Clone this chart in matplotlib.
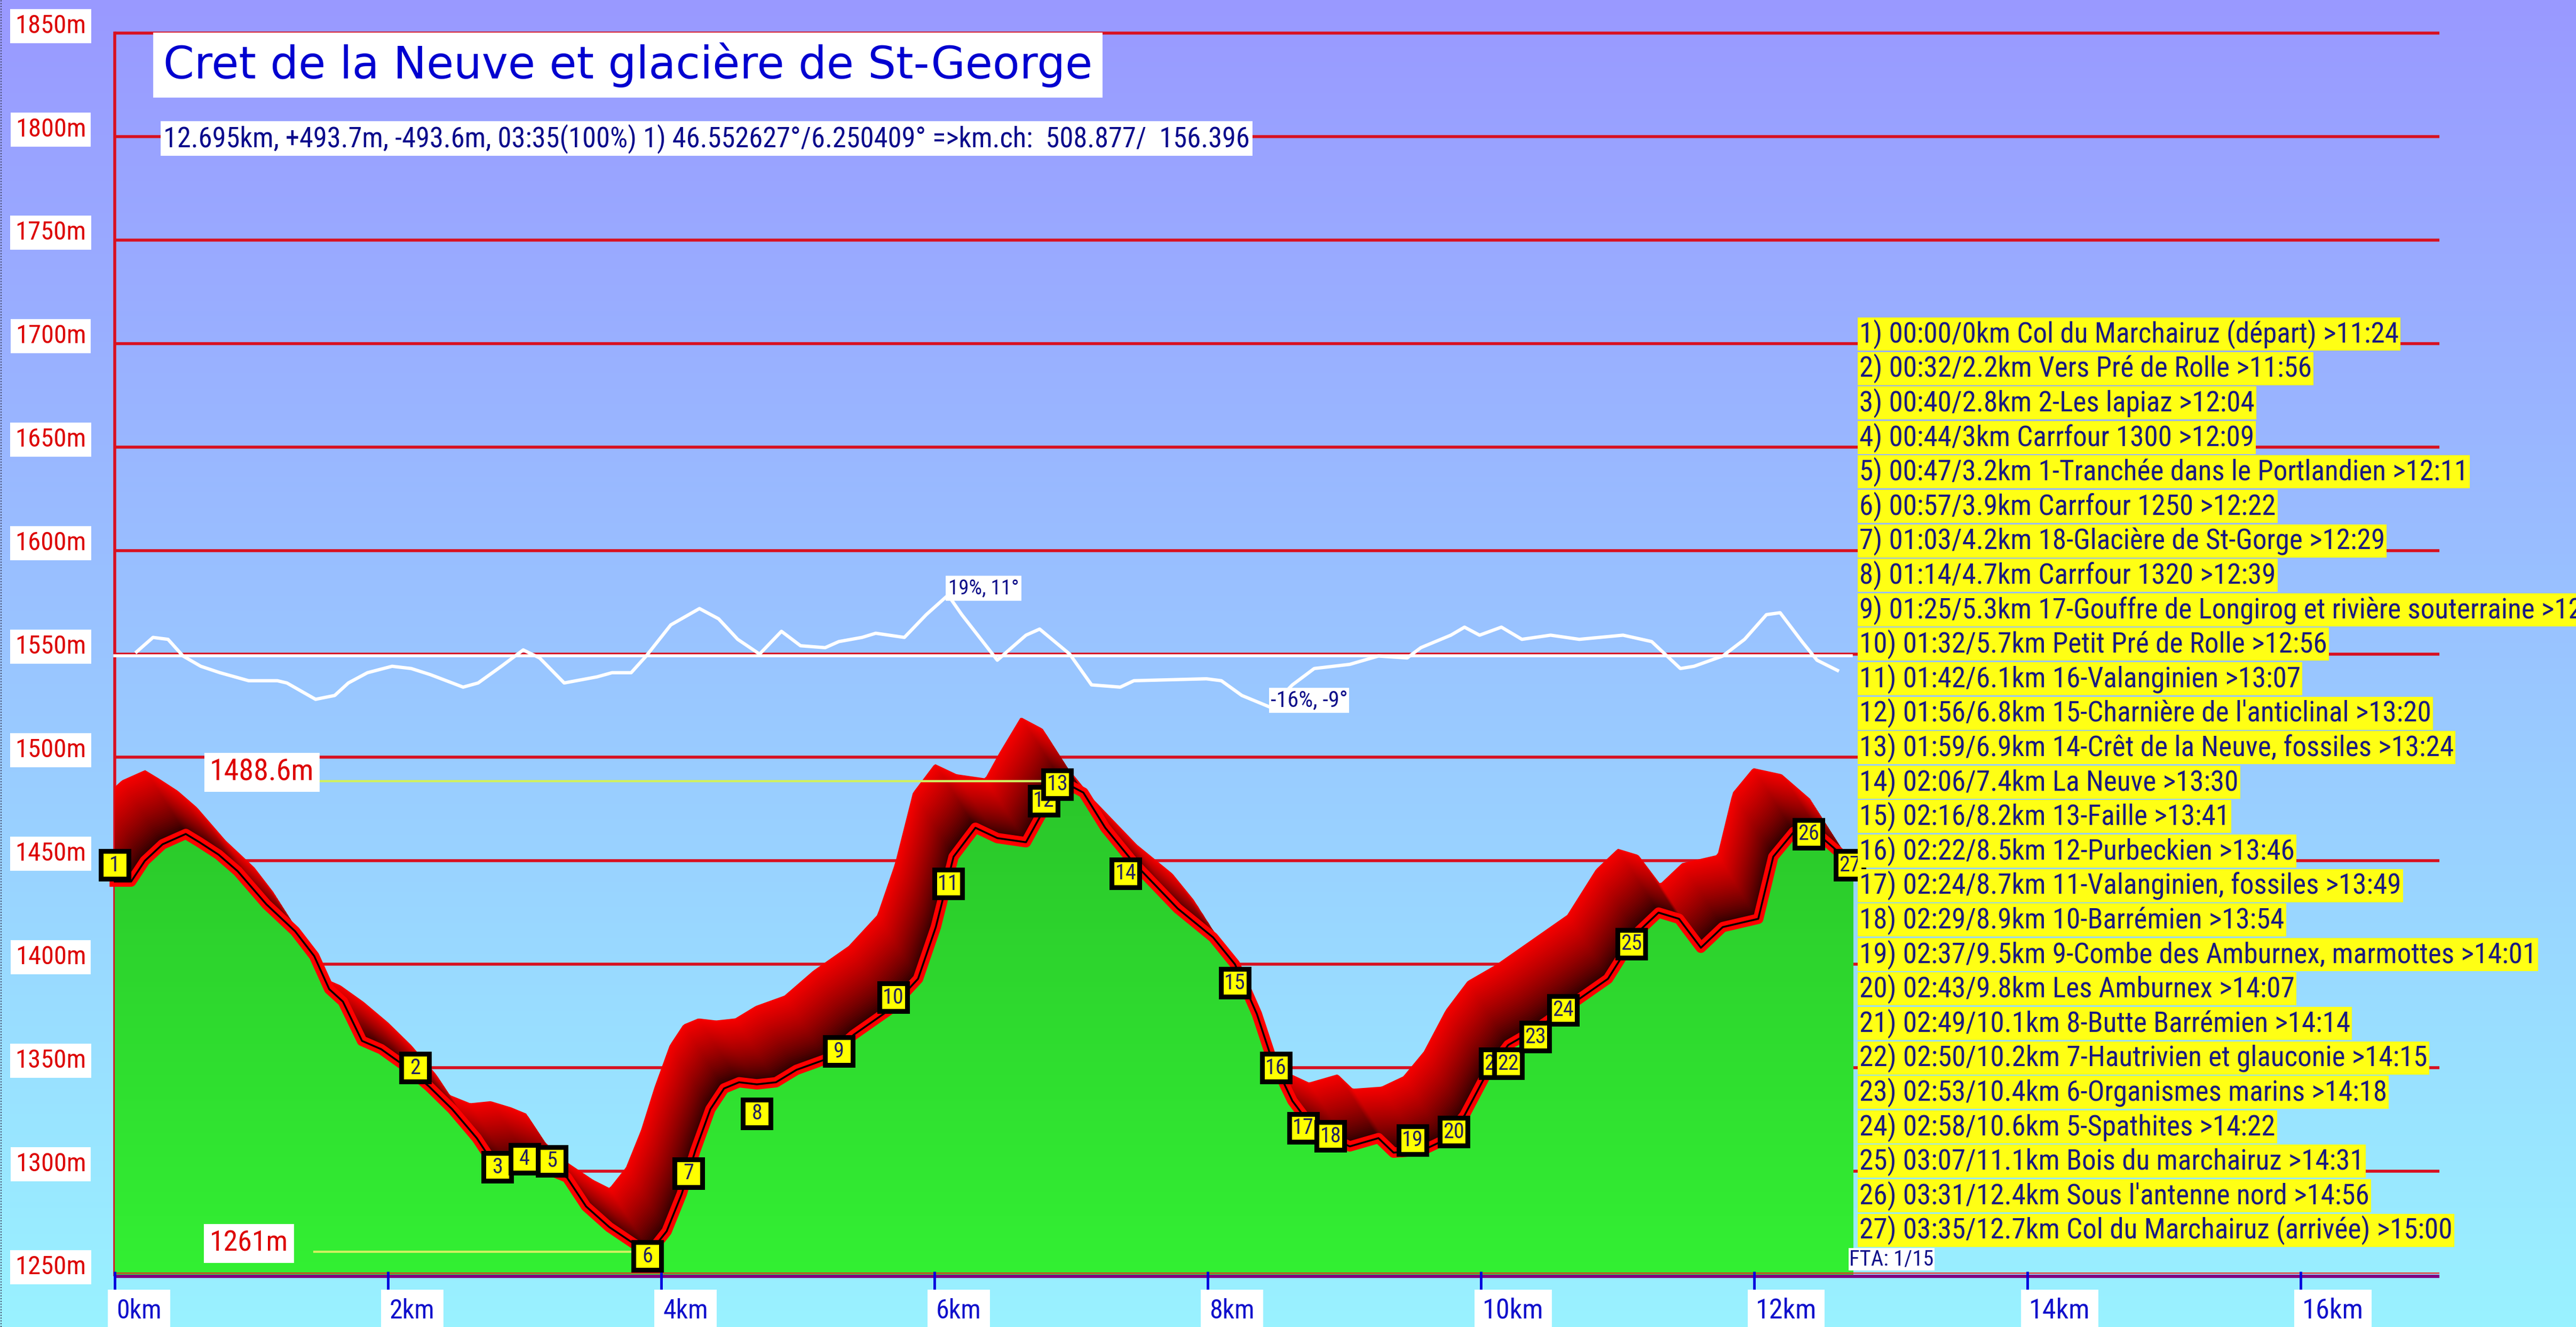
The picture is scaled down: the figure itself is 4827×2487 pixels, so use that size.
import numpy as np
import matplotlib
matplotlib.use("Agg")
import matplotlib.pyplot as plt
from matplotlib import font_manager
from matplotlib.font_manager import FontProperties
from matplotlib.patches import Polygon
from matplotlib.lines import Line2D

# ---- values ----
dist_km = [0.0, 0.12, 0.22, 0.35, 0.52, 0.62, 0.76, 0.9, 1.11, 1.32,
           1.46, 1.57, 1.67, 1.81, 1.95, 2.12, 2.3, 2.47, 2.65, 2.75,
           2.9, 3.05, 3.2, 3.31, 3.45, 3.62, 3.8, 3.92, 4.04, 4.15,
           4.25, 4.36, 4.46, 4.57, 4.7, 4.84, 4.99, 5.2, 5.41, 5.67,
           5.88, 6.01, 6.14, 6.3, 6.46, 6.67, 6.77, 6.93, 7.09, 7.25,
           7.46, 7.78, 8.04, 8.2, 8.36, 8.46, 8.62, 8.78, 9.04, 9.25,
           9.36, 9.57, 9.73, 9.88, 10.04, 10.2, 10.41, 10.67, 10.93, 11.14,
           11.3, 11.45, 11.61, 11.77, 12.03, 12.14, 12.29, 12.5, 12.71]
elev_m = [1440, 1440, 1450, 1458, 1463, 1459, 1453, 1445, 1429, 1416,
          1404, 1388, 1382, 1363, 1359, 1351, 1341, 1330, 1316, 1306,
          1302, 1303, 1300, 1297, 1283, 1273, 1265, 1261, 1271, 1289,
          1310, 1330, 1340, 1343, 1342, 1343, 1349, 1354, 1366, 1378,
          1393, 1418, 1452, 1466, 1461, 1459, 1471, 1488.6, 1483, 1466,
          1449, 1427, 1413, 1400, 1376, 1356, 1334, 1320, 1312, 1316,
          1309, 1310, 1315, 1327, 1347, 1361, 1369, 1381, 1393, 1415,
          1425, 1422, 1408, 1418, 1422, 1452, 1464, 1461, 1449]

slope_km = [0.16, 0.28, 0.39, 0.5, 0.63, 0.77, 0.98, 1.19, 1.26, 1.47,
            1.61, 1.71, 1.85, 2.03, 2.17, 2.31, 2.55, 2.66, 2.83, 2.99,
            3.11, 3.29, 3.53, 3.64, 3.78, 3.89, 4.07, 4.28, 4.42, 4.56,
            4.72, 4.88, 5.02, 5.2, 5.3, 5.47, 5.57, 5.78, 5.94, 6.1,
            6.2, 6.46, 6.67, 6.77, 6.99, 7.15, 7.36, 7.46, 7.99, 8.1,
            8.25, 8.46, 8.62, 8.78, 9.04, 9.25, 9.46, 9.56, 9.78, 9.88,
            9.99, 10.15, 10.3, 10.51, 10.72, 11.04, 11.25, 11.46, 11.56, 11.77,
            11.93, 12.09, 12.19, 12.35, 12.46, 12.61]
slope_pct = [1.3, 5.8, 5.2, 0, -3.2, -5.2, -7.7, -7.7, -8.4, -13.5,
             -12.3, -8.4, -5.2, -3.2, -3.9, -5.8, -9.7, -8.4, -3.2, 1.9,
             -0.6, -8.4, -6.5, -5.2, -5.2, 0, 9.7, 14.8, 11.6, 5.2,
             0.6, 7.7, 3.2, 2.6, 4.5, 5.8, 7.1, 5.8, 12.9, 19.0,
             12.9, -1.3, 6.5, 8.4, 0.6, -9.0, -9.7, -7.7, -7.1, -7.7,
             -12.3, -16.0, -9.0, -3.9, -2.6, 0, -0.6, 2.6, 6.5, 9.0,
             6.5, 9.0, 5.2, 6.5, 5.2, 6.5, 4.5, -3.9, -3.2, 0,
             5.2, 12.9, 13.5, 4.5, -1.3, -4.5]

wp_time = ["00:00", "00:32", "00:40", "00:44", "00:47", "00:57", "01:03", "01:14", "01:25",
           "01:32", "01:42", "01:56", "01:59", "02:06", "02:16", "02:22", "02:24", "02:29",
           "02:37", "02:43", "02:49", "02:50", "02:53", "02:58", "03:07", "03:31", "03:35"]
wp_dist = [0, 2.2, 2.8, 3, 3.2, 3.9, 4.2, 4.7, 5.3,
           5.7, 6.1, 6.8, 6.9, 7.4, 8.2, 8.5, 8.7, 8.9,
           9.5, 9.8, 10.1, 10.2, 10.4, 10.6, 11.1, 12.4, 12.7]
wp_name = ["Col du Marchairuz (départ)", "Vers Pré de Rolle", "2-Les lapiaz",
           "Carrfour 1300", "1-Tranchée dans le Portlandien", "Carrfour 1250",
           "18-Glacière de St-Gorge", "Carrfour 1320",
           "17-Gouffre de Longirog et rivière souterraine", "Petit Pré de Rolle",
           "16-Valanginien", "15-Charnière de l'anticlinal",
           "14-Crêt de la Neuve, fossiles", "La Neuve", "13-Faille", "12-Purbeckien",
           "11-Valanginien, fossiles", "10-Barrémien", "9-Combe des Amburnex, marmottes",
           "Les Amburnex", "8-Butte Barrémien", "7-Hautrivien et glauconie",
           "6-Organismes marins", "5-Spathites", "Bois du marchairuz",
           "Sous l'antenne nord", "Col du Marchairuz (arrivée)"]
wp_clock = ["11:24", "11:56", "12:04", "12:09", "12:11", "12:22", "12:29", "12:39", "12:49",
            "12:56", "13:07", "13:20", "13:24", "13:30", "13:41", "13:46", "13:49", "13:54",
            "14:01", "14:07", "14:14", "14:15", "14:18", "14:22", "14:31", "14:56", "15:00"]
wp_box_m = [1448, 1350, 1302, 1306, 1305, 1259, 1299, 1328, 1358,
            1384, 1439, 1479, 1487, 1444, 1391, 1350, 1321, 1317,
            1315, 1319, 1352, 1352, 1365, 1378, 1410, 1463, 1448]

y_ticks = list(range(1250, 1851, 50))
x_ticks = list(range(0, 17, 2))

title = "Cret de la Neuve et glacière de St-George"
subtitle = ("12.695km, +493.7m, -493.6m, 03:35(100%) 1) 46.552627°/6.250409° "
            "=>km.ch:  508.877/  156.396")
fta = "FTA: 1/15"

# ---- layout, in pixels of the 4827x2487 picture ----
DPI = 100
W, H = 4827, 2487
X0, PX_KM = 215, 256.0      # 0 km
Y0, PX_M = 2389, 3.878      # 1250 m line


def km_at(px):
    return (px - X0) / PX_KM


def m_at(py):
    return 1250 + (Y0 - py) / PX_M


def pick_narrow():
    # the picture uses a tall, narrow face; take a condensed one if there is any
    fonts = [f for f in font_manager.fontManager.ttflist
             if f.style == "normal" and f.weight in (400, "normal", "regular")]
    for want in ("Liberation Sans Narrow", "Roboto Condensed", "Noto Sans SemiCondensed",
                 "Noto Sans Condensed", "DejaVu Sans Condensed", "Open Sans Condensed"):
        for f in fonts:
            if f.name == want:
                return FontProperties(fname=f.fname)
    for key in ("semi-condensed", "condensed"):
        for f in fonts:
            if str(f.stretch) == key:
                return FontProperties(fname=f.fname)
    for f in fonts:
        low = f.fname.lower()
        if "narrow" in low or ("condensed" in low and "extra" not in low):
            return FontProperties(fname=f.fname)
    return FontProperties(family="DejaVu Sans")


NARROW = pick_narrow()
PLAIN = FontProperties(family="DejaVu Sans")

fig = plt.figure(figsize=(W / DPI, H / DPI), dpi=DPI)
ax = fig.add_axes([0, 0, 1, 1])
ax.set_axis_off()
x_lo, x_hi = km_at(0), km_at(W)
y_lo, y_hi = m_at(H), m_at(0)
ax.set_xlim(x_lo, x_hi)
ax.set_ylim(y_lo, y_hi)
renderer = fig.canvas.get_renderer()


def fit(txt, width_px, box_px=None):
    # scale the font so the text is as wide as in the picture
    w = txt.get_window_extent(renderer).width
    txt.set_fontsize(txt.get_fontsize() * width_px / w)
    if box_px:
        h = txt.get_window_extent(renderer).height
        fpx = txt.get_fontsize() * DPI / 72
        txt.get_bbox_patch().set_boxstyle("square", pad=max(0.03, (box_px - h) / 2 / fpx))
    return txt


def label(x, y, s, color, width_px, box_px, fp=NARROW, ha="left", fc="white", z=8):
    t = ax.text(x, y, s, fontproperties=fp, color=color, ha=ha, va="center",
                zorder=z, bbox=dict(boxstyle="square,pad=0.1", fc=fc, ec="none"))
    t.set_fontsize(20)
    return fit(t, width_px, box_px)


# sky
t = np.linspace(0, 1, 256)[:, None, None]
sky = (1 - t) * np.array([153, 153, 255]) / 255 + t * np.array([153, 242, 255]) / 255
ax.imshow(sky, extent=[x_lo, x_hi, y_lo, y_hi], aspect="auto", zorder=0)

# grid
grid_end = km_at(4571)
for v in y_ticks[1:]:
    ax.plot([0, grid_end], [v, v], color="#d81020", lw=4, zorder=1, solid_capstyle="butt")
ax.plot([0, 0], [1250, y_ticks[-1]], color="#d81020", lw=4, zorder=1)

# slope curve
SLOPE_ZERO, SLOPE_SCALE = 1549, 1.55
pct = np.array(slope_pct)
ax.plot([0, dist_km[-1]], [SLOPE_ZERO] * 2, color="white", lw=4, zorder=2)
ax.plot(slope_km, SLOPE_ZERO + SLOPE_SCALE * pct, color="white", lw=4.5, zorder=2,
        solid_joinstyle="round")
for i in (int(np.argmax(pct)), int(np.argmin(pct))):
    deg = np.degrees(np.arctan(pct[i] / 100))
    label(slope_km[i], SLOPE_ZERO + SLOPE_SCALE * pct[i] + 3.3,
          f"{pct[i]:.0f}%, {deg:.0f}°", "#10108a", 132 if pct[i] > 0 else 144, 47)

# 3d shadow of the profile
km = np.array(dist_km)
el = np.array(elev_m)
SHADOW_DX, SHADOW_DY, LAYERS = 0.3, 31, 40
for k in range(LAYERS, 0, -1):
    f = k / LAYERS
    xs = np.linspace(0, km[-1] - SHADOW_DX * f, 900)
    ys = np.interp(xs + SHADOW_DX * f, km, el) + SHADOW_DY * f
    ax.fill_between(xs, 1250, ys, color=np.array([0.96, 0, 0]) * f ** 0.65, lw=0, zorder=3)

# green ground with a soft vertical gradient
end_km = km_at(3473)
ground = Polygon([(0, 1250)] + list(zip(km, el)) + [(end_km, el[-1]), (end_km, 1250)],
                 closed=True, fc="none", ec="none", transform=ax.transData)
ax.add_patch(ground)
g = np.linspace(0, 1, 256)[:, None, None]
green = (1 - g) * np.array([42, 196, 42]) / 255 + g * np.array([51, 240, 51]) / 255
im = ax.imshow(green, extent=[0, end_km, 1250, 1500], aspect="auto", zorder=4)
im.set_clip_path(ground)

ax.plot(km, el, color="#ff0000", lw=14, zorder=5, solid_joinstyle="round")
ax.plot(km, el, color="black", lw=2.5, zorder=5.1, solid_joinstyle="round")

# highest / lowest point
for i in (int(np.argmax(el)), int(np.argmin(el))):
    ax.plot([km_at(589), km[i]], [el[i]] * 2, color="#d0f060", lw=3, zorder=6)
    s = f"{el[i]:g}m"
    label(km_at(393), el[i] + 4.2, s, "#dd0000", 196 if "." in s else 147, 73)

# x axis
ax.plot([0, grid_end], [1249.2] * 2, color="#800080", lw=4.5, zorder=7, solid_capstyle="butt")
ax.plot([0, grid_end], [1250.7] * 2, color="#ee2020", lw=1.5, zorder=7, solid_capstyle="butt")
for v in x_ticks:
    ax.plot([v, v], [1240.8, 1251.5], color="#0000dd", lw=3.5, zorder=7.5, solid_capstyle="butt")
    label(v + 0.012, 1232.5, f"{v}km", "#1010cc", 85 if v < 10 else 115, 80)

# y labels
for v in y_ticks:
    label(km_at(95), v + 3.5, f"{v}m", "#dd0000", 133, 64, ha="center")

# title
label(km_at(306), m_at(122), title, "#0000d0", 1737, 122, fp=PLAIN)
label(km_at(306), m_at(260), subtitle, "#0a0a8c", 2036, 65)
label(km_at(3465), m_at(2360), fta, "#10108a", 158, 38, z=9)

# numbered boxes
for i, (x, y) in enumerate(zip(wp_dist, wp_box_m)):
    z = 10 + i * 0.1
    ax.plot(x, y, marker="s", ms=38, mfc="#ffff00", mec="black", mew=6.5, zorder=z)
    t = ax.text(x, y, str(i + 1), fontproperties=NARROW, color="#202060",
                ha="center", va="center", zorder=z + 0.05)
    t.set_fontsize(29)

# waypoint list
list_y0 = m_at(626)
list_step = 64.6 / PX_M
rows = []
for i, (tm, d, n, c) in enumerate(zip(wp_time, wp_dist, wp_name, wp_clock)):
    s = f"{i + 1}) {tm}/{d:g}km {n} >{c}"
    r = ax.text(km_at(3484), list_y0 - i * list_step, s, fontproperties=NARROW,
                color="#1a1a80", ha="left", va="center", zorder=50,
                bbox=dict(boxstyle="square,pad=0.1", fc="#ffff14", ec="none"))
    r.set_fontsize(20)
    rows.append(r)
fit(rows[0], 1008, 62)
for r in rows[1:]:
    r.set_fontsize(rows[0].get_fontsize())
    r.get_bbox_patch().set_boxstyle(rows[0].get_bbox_patch().get_boxstyle())

# dotted frame on the left edge
fig.add_artist(Line2D([1.5 / W] * 2, [0, 1], transform=fig.transFigure,
                      color="#404060", lw=1.5, ls=(0, (1, 1.5))))

ax.set_xlim(x_lo, x_hi)
ax.set_ylim(y_lo, y_hi)
fig.savefig("out.png", dpi=DPI)
